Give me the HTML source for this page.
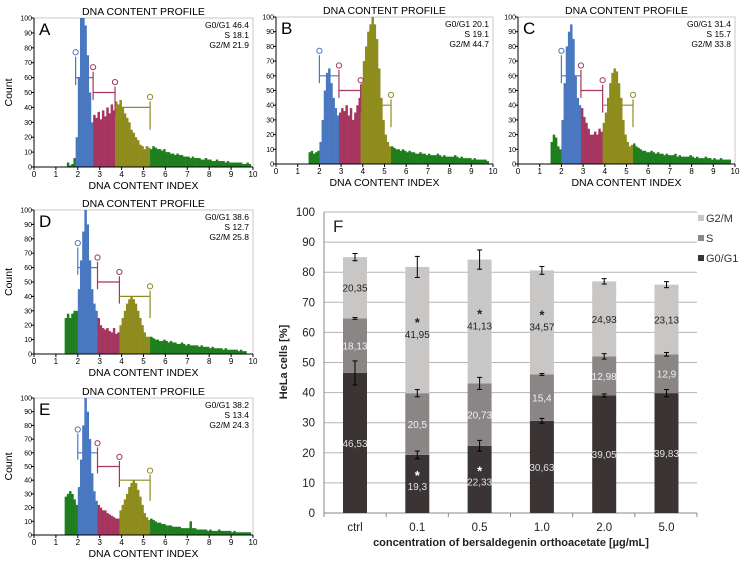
<!DOCTYPE html>
<html><head><meta charset="utf-8"><style>
html,body{margin:0;padding:0;background:#fff;}
svg{display:block;font-family:"Liberation Sans",Arial,sans-serif;}
</style></head><body>
<svg id="fig" width="745" height="561" viewBox="0 0 745 561" xmlns="http://www.w3.org/2000/svg"></svg>
<script>
// ---- Histogram data (counts per 0.1 bin starting at DNA index 1.4) ----
const histA = [0,3,1,2,6,20,60,100,100,95,75,50,30,35,33,37,32,38,34,40,36,42,38,44,42,45,40,36,33,30,25,23,20,18,15,14,12,14,13,12,14,13,12,12,11,12,10,10,9,9,8,9,8,8,7,7,7,6,7,6,6,6,5,5,6,5,5,4,4,5,4,4,4,3,4,3,3,3,3,3,3,2,2,3,2];
const histB = [0,8,9,7,8,9,15,30,50,62,65,55,45,38,33,35,38,36,40,33,38,30,35,40,45,55,70,80,90,95,100,95,85,65,45,30,20,15,12,12,11,10,10,9,10,9,8,9,8,8,7,7,8,7,7,6,7,6,6,6,7,6,5,6,5,5,5,5,6,5,4,5,4,4,4,4,3,4,3,3,3,3,3,2];
const histC = [0,15,20,18,12,10,30,55,80,90,95,85,60,45,40,38,32,28,24,20,20,22,20,24,22,28,35,45,55,62,65,63,55,45,30,20,15,12,13,14,12,11,10,9,9,8,8,9,8,7,8,7,7,6,7,6,6,6,7,5,6,5,5,5,5,6,5,4,5,4,4,4,5,4,4,3,4,3,3,4,3,3,3,3];
const histD = [25,28,25,28,30,30,45,65,85,100,90,65,45,35,30,25,20,18,17,18,16,15,18,14,15,20,25,30,35,38,40,38,35,30,25,20,15,12,12,12,11,10,10,9,9,10,9,8,9,8,8,7,7,8,7,6,7,6,6,6,6,5,6,5,5,5,4,5,4,4,4,4,3,4,3,3,3,3,3,2,3,2,2];
const histE = [28,30,32,30,26,22,35,55,80,100,90,70,45,32,25,22,20,18,18,16,15,14,13,12,12,18,22,26,30,35,38,40,38,33,28,22,16,13,11,12,11,10,9,9,8,8,7,7,7,6,6,6,6,5,5,5,5,10,5,5,4,4,4,4,4,3,4,3,3,3,4,3,3,3,3,3,2,3,2,2,2,2,2,2,2];
const panelLetters = ["A","B","C","D","E"];
const statsG0 = ["46.4","20.1","31.4","38.6","38.2"];
const statsS = ["18.1","19.1","15.7","12.7","13.4"];
const statsG2 = ["21.9","44.7","33.8","25.8","24.3"];
const gateStart = [1.9,2.0,2.0,2.0,2.0];
const gateS = [2.7,2.9,2.9,2.9,2.9];
const gateG2 = [3.7,3.9,3.9,3.9,3.9];
const gateEnd = [5.3,5.3,5.3,5.3,5.3];
const xTicks = [0,1,2,3,4,5,6,7,8,9,10];
const yTicks = [0,10,20,30,40,50,60,70,80,90,100];

// ---- Bar chart data ----
const categories = ["ctrl","0.1","0.5","1.0","2.0","5.0"];
const g0 = [46.53,19.3,22.33,30.63,39.05,39.83];
const sPh = [18.13,20.5,20.73,15.4,12.98,12.9];
const g2m = [20.35,41.95,41.13,34.57,24.93,23.13];
const g0Lbl = ["46,53","19,3","22,33","30,63","39,05","39,83"];
const sLbl = ["18,13","20,5","20,73","15,4","12,98","12,9"];
const g2Lbl = ["20,35","41,95","41,13","34,57","24,93","23,13"];
const g0Err = [4,1.3,1.8,0.8,0.5,1.2];
const sErr = [0.3,1.2,2,0.3,0.9,0.6];
const g2Err = [1.2,3.5,3.2,1.3,0.9,1];
const g0Star = [false,true,true,false,false,false];
const g2Star = [false,true,true,true,false,false];
const barTicks = [0,10,20,30,40,50,60,70,80,90,100];

const NS="http://www.w3.org/2000/svg";
const svg=document.getElementById('fig');
function mk(tag,attrs,parent){const e=document.createElementNS(NS,tag);for(const k in attrs)e.setAttribute(k,attrs[k]);(parent||svg).appendChild(e);return e;}
function txt(s,attrs,parent){const e=mk('text',attrs,parent);e.textContent=s;return e;}

const hists=[histA,histB,histC,histD,histE];
const boxes=[
 {x0:34,x1:253,yt:18,yb:167,count:true},
 {x0:276,x1:493,yt:17,yb:164,count:false},
 {x0:518,x1:735,yt:17,yb:164,count:false},
 {x0:34,x1:253,yt:210,yb:354,count:true},
 {x0:34,x1:253,yt:398,yb:535,count:true}];
const cG='#1f7f1f',cB='#4a78c0',cR='#a63560',cO='#8f8c1e';

boxes.forEach((b,p)=>{
 const g=mk('g',{});
 
 
 const X=v=>b.x0+(b.x1-b.x0)*v/10;
 const Y=v=>b.yb-(b.yb-b.yt)*v/100;
 mk('rect',{x:b.x0,y:b.yt,width:b.x1-b.x0,height:b.yb-b.yt,fill:'#fff',stroke:'#bbb','stroke-width':0.8},g);
 const h=hists[p];
 h.forEach((v,i)=>{
  const xv=1.4+i*0.1;
  let col=cG;
  if(xv>=gateStart[p]-0.001&&xv<gateS[p]-0.001)col=cB;
  else if(xv>=gateS[p]-0.001&&xv<gateG2[p]-0.001)col=cR;
  else if(xv>=gateG2[p]-0.001&&xv<gateEnd[p]-0.001)col=cO;
  const r=mk('rect',{x:X(xv),y:Y(v),width:X(0.1)-X(0)+0.3,height:Math.max(0,b.yb-Y(v)),fill:col},g);
  
  
 });
 const gl=(x1,y1,x2,y2,c)=>mk('line',{x1:X(x1),y1:Y(y1),x2:X(x2),y2:Y(y2),stroke:c,'stroke-width':1.2},g);
 const gc=(x,y,c)=>mk('circle',{cx:X(x),cy:Y(y),r:2.6,fill:'#fff',stroke:c,'stroke-width':1},g);
 gl(gateStart[p],55,gateStart[p],74,cB);gl(gateStart[p],60,gateS[p],60,cB);gc(gateStart[p],77,cB);
 gl(gateS[p],45,gateS[p],64,cR);gl(gateS[p],50,gateG2[p],50,cR);gc(gateS[p],67,cR);
 gl(gateG2[p],35,gateG2[p],54,cR);gl(gateG2[p],40,gateEnd[p],40,cO);gc(gateG2[p],57,cR);
 gl(gateEnd[p],25,gateEnd[p],44,cO);gc(gateEnd[p],47,cO);
 mk('line',{x1:b.x0,y1:b.yt,x2:b.x0,y2:b.yb,stroke:'#000','stroke-width':1},g);
 mk('line',{x1:b.x0,y1:b.yb,x2:b.x1,y2:b.yb,stroke:'#000','stroke-width':1},g);
 xTicks.forEach(t=>{mk('line',{x1:X(t),y1:b.yb,x2:X(t),y2:b.yb+3,stroke:'#000'},g);
  txt(String(t),{x:X(t),y:b.yb+10,'font-size':8,'text-anchor':'middle'},g);});
 yTicks.forEach(t=>{mk('line',{x1:b.x0-3,y1:Y(t),x2:b.x0,y2:Y(t),stroke:'#000'},g);
  txt(String(t),{x:b.x0-2,y:Y(t)+2.5,'font-size':7,'text-anchor':'end'},g);});
 const ti=txt('DNA CONTENT PROFILE',{x:(b.x0+b.x1)/2,y:b.yt-3,'font-size':10.5,'text-anchor':'middle'},g);
 
 const xl=txt('DNA CONTENT INDEX',{x:(b.x0+b.x1)/2,y:b.yb+22,'font-size':10.5,'text-anchor':'middle'},g);
 
 if(b.count){const yl=txt('Count',{x:0,y:0,'font-size':10.5,'text-anchor':'middle',transform:`translate(12,${(b.yt+b.yb)/2}) rotate(-90)`},g);
  }
 txt(panelLetters[p],{x:b.x0+5,y:b.yt+17,'font-size':17},g);
 txt('G0/G1 '+statsG0[p],{x:b.x1-4,y:b.yt+10,'font-size':8.5,'text-anchor':'end'},g);
 txt('S '+statsS[p],{x:b.x1-4,y:b.yt+20,'font-size':8.5,'text-anchor':'end'},g);
 txt('G2/M '+statsG2[p],{x:b.x1-4,y:b.yt+30,'font-size':8.5,'text-anchor':'end'},g);
});

// ---- Bar chart F ----
const F=mk('g',{});


const px0=324,px1=697,py0=513,py100=212;
const YB=v=>py0-(py0-py100)*v/100;
const XB=i=>355+i*62.3;
const bw=24;
barTicks.forEach(t=>{
 if(t>0)mk('line',{x1:px0,y1:YB(t),x2:px1,y2:YB(t),stroke:'#b5b5b5','stroke-width':1},F);
 const l=txt(String(t),{x:315,y:YB(t)+4,'font-size':11.5,'text-anchor':'end',fill:'#222'},F);
 
});
mk('line',{x1:px0,y1:py100,x2:px0,y2:py0,stroke:'#888'},F);
mk('line',{x1:px0,y1:py0,x2:px1,y2:py0,stroke:'#888'},F);
for(let i=0;i<=6;i++)mk('line',{x1:px0+i*(px1-px0)/6,y1:py0,x2:px0+i*(px1-px0)/6,y2:py0+4,stroke:'#888'},F);
function eb(x,v,e){mk('line',{x1:x,y1:YB(v-e),x2:x,y2:YB(v+e),stroke:'#000'},F);
 mk('line',{x1:x-2.5,y1:YB(v-e),x2:x+2.5,y2:YB(v-e),stroke:'#000'},F);
 mk('line',{x1:x-2.5,y1:YB(v+e),x2:x+2.5,y2:YB(v+e),stroke:'#000'},F);}
categories.forEach((c,i)=>{
 const x=XB(i);
 const a=g0[i],s=a+sPh[i],t=s+g2m[i];
 const r1=mk('rect',{x:x-bw/2,y:YB(a),width:bw,height:YB(0)-YB(a),fill:'#3a3534'},F);
 
 const r2=mk('rect',{x:x-bw/2,y:YB(s),width:bw,height:YB(a)-YB(s),fill:'#8a8686'},F);
 
 const r3=mk('rect',{x:x-bw/2,y:YB(t),width:bw,height:YB(s)-YB(t),fill:'#c9c7c6'},F);
 
 eb(x,a,g0Err[i]);eb(x,s,sErr[i]);eb(x,t,g2Err[i]);
 const ly0=g0Star[i]?YB(a/2)-2:YB(a/2)+4;
 txt(g0Lbl[i],{x:x,y:ly0+(g0Star[i]?8:0),'font-size':10,'text-anchor':'middle',fill:'#e0e0e0'},F);
 if(g0Star[i])txt('*',{x:x,y:ly0-2,'font-size':13,'text-anchor':'middle',fill:'#fff','font-weight':'bold'},F);
 txt(sLbl[i],{x:x,y:YB((a+s)/2)+4,'font-size':10,'text-anchor':'middle',fill:'#f0f0f0'},F);
 const ly2=YB((s+t)/2)+4;
 txt(g2Lbl[i],{x:x,y:ly2+(g2Star[i]?4:0),'font-size':10,'text-anchor':'middle',fill:'#222'},F);
 if(g2Star[i])txt('*',{x:x,y:ly2-7,'font-size':13,'text-anchor':'middle',fill:'#222','font-weight':'bold'},F);
 const cl=txt(c,{x:x,y:531,'font-size':11.5,'text-anchor':'middle',fill:'#222'},F);
 
});
txt('F',{x:333,y:232,'font-size':17,fill:'#222'},F);
const legItems=[['G2/M','#c9c7c6',222],['S','#8a8686',242],['G0/G1','#3a3534',262]];
legItems.forEach(l=>{
 const lg=mk('g',{},F);
 
 mk('rect',{x:698,y:l[2]-7,width:6,height:6,fill:l[1]},lg);
 txt(l[0],{x:706,y:l[2],'font-size':11,fill:'#333'},lg);
});
const yt=txt('HeLa cells [%]',{x:0,y:0,'font-size':11,'font-weight':'bold','text-anchor':'middle',fill:'#222',transform:'translate(287,362) rotate(-90)'},F);

const xt=txt('concentration of bersaldegenin orthoacetate [µg/mL]',{x:511,y:546,'font-size':11,'font-weight':'bold','text-anchor':'middle',fill:'#222'},F);

</script>
</body></html>
